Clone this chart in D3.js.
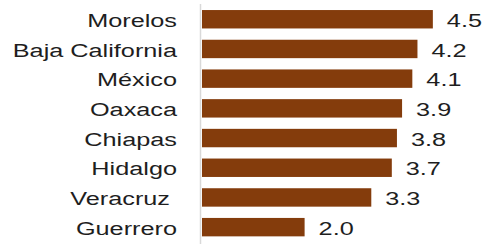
<!DOCTYPE html>
<html>
<head>
<meta charset="utf-8">
<script src="https://cdn.jsdelivr.net/npm/d3@7"></script>
<style>
  body { margin: 0; background: #fff; }
  text { font-family: "Liberation Sans", Arial, sans-serif; fill: #1e1e1e; white-space: pre; }
</style>
</head>
<body>
<script>
var states = ["Morelos", "Baja California", "México", "Oaxaca", "Chiapas", "Hidalgo", "Veracruz ", "Guerrero"];
var values = [4.5, 4.2, 4.1, 3.9, 3.8, 3.7, 3.3, 2.0];
var valueLabels = ["4.5", "4.2", "4.1", "3.9", "3.8", "3.7", "3.3", "2.0"];

var w = 485, h = 244;
var stretch = 1.33;  // text in the picture is wider than normal

var svg = d3.select("body")
	.append("svg")
	.attr("width", w)
	.attr("height", h);

var y = d3.scaleBand()
	.domain(states)
	.range([4.4, 242])
	.paddingInner(0.38)
	.paddingOuter(0.19);

var x = d3.scaleLinear().domain([0, 5]).range([202, 202 + 5 * 51.3]);

svg.selectAll("rect").data(values)
	.enter()
	.append("rect")
	.attr("x", x(0))
	.attr("y", (d, i) => { return y(states[i]); })
	.attr("width", (d) => { return x(d) - x(0); })
	.attr("height", y.bandwidth())
	.attr("fill", "#843c0c");

// vertical axis line
svg.append("line")
	.attr("x1", x(0) - 1.5)
	.attr("x2", x(0) - 1.5)
	.attr("y1", 4)
	.attr("y2", h)
	.attr("stroke", "#d9d9d9")
	.attr("stroke-width", 1.5);

svg.selectAll(".cat").data(states)
	.enter()
	.append("text")
	.attr("class", "cat")
	.attr("transform", (d) => {
		return "translate(177," + (y(d) + y.bandwidth() / 2) + ") scale(" + stretch + ",1)";
	})
	.attr("dy", "0.4em")
	.attr("text-anchor", "end")
	.attr("font-size", "19px")
	.text((d) => { return d; });

svg.selectAll(".val").data(values)
	.enter()
	.append("text")
	.attr("class", "val")
	.attr("transform", (d, i) => {
		return "translate(" + (x(d) + 14) + "," + (y(states[i]) + y.bandwidth() / 2) + ") scale(" + stretch + ",1)";
	})
	.attr("dy", "0.4em")
	.attr("font-size", "19px")
	.text((d, i) => { return valueLabels[i]; });
</script>
</body>
</html>
